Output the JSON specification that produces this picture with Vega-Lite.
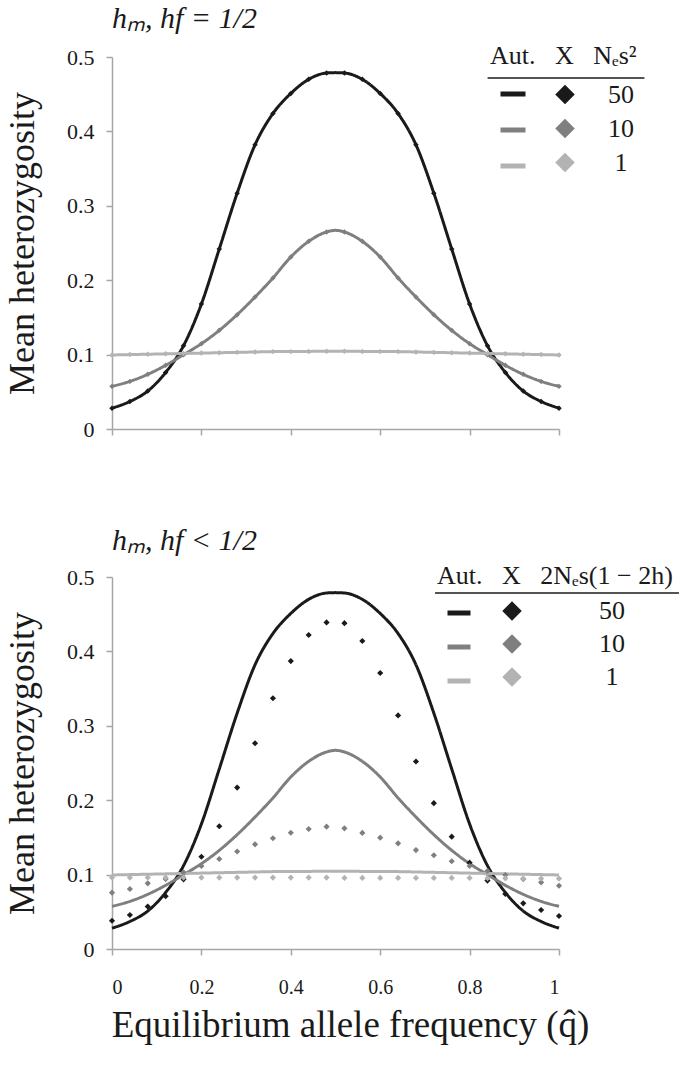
{
  "$schema": "https://vega.github.io/schema/vega-lite/v6.json",
  "background": "white",
  "padding": {"top": 4, "left": 4, "right": 5, "bottom": 5},
  "config": {
    "font": "Liberation Serif",
    "view": {"stroke": null},
    "axis": {
      "grid": false,
      "domainColor": "#a6a6a6",
      "domainWidth": 1.5,
      "tickColor": "#a6a6a6",
      "tickWidth": 1.5,
      "tickSize": 6,
      "labelFont": "Liberation Serif",
      "labelFontSize": 22,
      "labelColor": "#1a1a1a",
      "titleFont": "Liberation Serif",
      "titleFontSize": 36,
      "titleFontWeight": "normal",
      "titleColor": "#1a1a1a"
    },
    "legend": {
      "padding": 0,
      "titleFont": "Liberation Serif",
      "titleFontSize": 26,
      "titleFontWeight": 400,
      "titleColor": "#1a1a1a",
      "labelFont": "Liberation Serif",
      "labelFontSize": 26,
      "labelColor": "#1a1a1a",
      "titleLimit": 400
    },
    "title": {
      "font": "Liberation Serif",
      "fontSize": 30,
      "fontStyle": "italic",
      "fontWeight": "normal",
      "color": "#1a1a1a",
      "anchor": "start",
      "frame": "group"
    }
  },
  "datasets": {
    "aut": [
      {"q": 0, "H": 0.028, "series": "50"}, {"q": 0.04, "H": 0.037, "series": "50"}, {"q": 0.08, "H": 0.051, "series": "50"}, {"q": 0.12, "H": 0.076, "series": "50"}, {"q": 0.16, "H": 0.112, "series": "50"}, {"q": 0.2, "H": 0.168, "series": "50"}, {"q": 0.24, "H": 0.242, "series": "50"}, {"q": 0.28, "H": 0.317, "series": "50"}, {"q": 0.32, "H": 0.382, "series": "50"}, {"q": 0.36, "H": 0.424, "series": "50"}, {"q": 0.4, "H": 0.451, "series": "50"}, {"q": 0.44, "H": 0.47, "series": "50"}, {"q": 0.48, "H": 0.4785, "series": "50"}, {"q": 0.5, "H": 0.479, "series": "50"}, {"q": 0.52, "H": 0.4785, "series": "50"}, {"q": 0.56, "H": 0.47, "series": "50"}, {"q": 0.6, "H": 0.451, "series": "50"}, {"q": 0.64, "H": 0.424, "series": "50"}, {"q": 0.68, "H": 0.382, "series": "50"}, {"q": 0.72, "H": 0.317, "series": "50"}, {"q": 0.76, "H": 0.242, "series": "50"}, {"q": 0.8, "H": 0.168, "series": "50"}, {"q": 0.84, "H": 0.112, "series": "50"}, {"q": 0.88, "H": 0.076, "series": "50"}, {"q": 0.92, "H": 0.051, "series": "50"}, {"q": 0.96, "H": 0.037, "series": "50"}, {"q": 1, "H": 0.028, "series": "50"},
      {"q": 0, "H": 0.0573, "series": "10"}, {"q": 0.04, "H": 0.064, "series": "10"}, {"q": 0.08, "H": 0.0735, "series": "10"}, {"q": 0.12, "H": 0.0856, "series": "10"}, {"q": 0.16, "H": 0.0999, "series": "10"}, {"q": 0.2, "H": 0.1147, "series": "10"}, {"q": 0.24, "H": 0.1326, "series": "10"}, {"q": 0.28, "H": 0.1537, "series": "10"}, {"q": 0.32, "H": 0.1774, "series": "10"}, {"q": 0.36, "H": 0.203, "series": "10"}, {"q": 0.4, "H": 0.2312, "series": "10"}, {"q": 0.44, "H": 0.2522, "series": "10"}, {"q": 0.48, "H": 0.2648, "series": "10"}, {"q": 0.5, "H": 0.267, "series": "10"}, {"q": 0.52, "H": 0.2648, "series": "10"}, {"q": 0.56, "H": 0.2522, "series": "10"}, {"q": 0.6, "H": 0.2312, "series": "10"}, {"q": 0.64, "H": 0.203, "series": "10"}, {"q": 0.68, "H": 0.1774, "series": "10"}, {"q": 0.72, "H": 0.1537, "series": "10"}, {"q": 0.76, "H": 0.1326, "series": "10"}, {"q": 0.8, "H": 0.1147, "series": "10"}, {"q": 0.84, "H": 0.0999, "series": "10"}, {"q": 0.88, "H": 0.0856, "series": "10"}, {"q": 0.92, "H": 0.0735, "series": "10"}, {"q": 0.96, "H": 0.064, "series": "10"}, {"q": 1, "H": 0.0573, "series": "10"},
      {"q": 0, "H": 0.0995, "series": "1"}, {"q": 0.04, "H": 0.1, "series": "1"}, {"q": 0.08, "H": 0.1005, "series": "1"}, {"q": 0.12, "H": 0.101, "series": "1"}, {"q": 0.16, "H": 0.1015, "series": "1"}, {"q": 0.2, "H": 0.102, "series": "1"}, {"q": 0.24, "H": 0.1025, "series": "1"}, {"q": 0.28, "H": 0.103, "series": "1"}, {"q": 0.32, "H": 0.1035, "series": "1"}, {"q": 0.36, "H": 0.104, "series": "1"}, {"q": 0.4, "H": 0.104, "series": "1"}, {"q": 0.44, "H": 0.1043, "series": "1"}, {"q": 0.48, "H": 0.1045, "series": "1"}, {"q": 0.5, "H": 0.1045, "series": "1"}, {"q": 0.52, "H": 0.1045, "series": "1"}, {"q": 0.56, "H": 0.1043, "series": "1"}, {"q": 0.6, "H": 0.104, "series": "1"}, {"q": 0.64, "H": 0.104, "series": "1"}, {"q": 0.68, "H": 0.1035, "series": "1"}, {"q": 0.72, "H": 0.103, "series": "1"}, {"q": 0.76, "H": 0.1025, "series": "1"}, {"q": 0.8, "H": 0.102, "series": "1"}, {"q": 0.84, "H": 0.1015, "series": "1"}, {"q": 0.88, "H": 0.101, "series": "1"}, {"q": 0.92, "H": 0.1005, "series": "1"}, {"q": 0.96, "H": 0.1, "series": "1"}, {"q": 1, "H": 0.0995, "series": "1"}
    ],
    "xlinked": [
      {"q": 0, "H": 0.038, "series": "50"}, {"q": 0.04, "H": 0.0457, "series": "50"}, {"q": 0.08, "H": 0.057, "series": "50"}, {"q": 0.12, "H": 0.071, "series": "50"}, {"q": 0.16, "H": 0.0936, "series": "50"}, {"q": 0.2, "H": 0.124, "series": "50"}, {"q": 0.24, "H": 0.165, "series": "50"}, {"q": 0.28, "H": 0.217, "series": "50"}, {"q": 0.32, "H": 0.2765, "series": "50"}, {"q": 0.36, "H": 0.337, "series": "50"}, {"q": 0.4, "H": 0.387, "series": "50"}, {"q": 0.44, "H": 0.422, "series": "50"}, {"q": 0.48, "H": 0.439, "series": "50"}, {"q": 0.52, "H": 0.438, "series": "50"}, {"q": 0.56, "H": 0.414, "series": "50"}, {"q": 0.6, "H": 0.371, "series": "50"}, {"q": 0.64, "H": 0.314, "series": "50"}, {"q": 0.68, "H": 0.252, "series": "50"}, {"q": 0.72, "H": 0.196, "series": "50"}, {"q": 0.76, "H": 0.151, "series": "50"}, {"q": 0.8, "H": 0.116, "series": "50"}, {"q": 0.84, "H": 0.092, "series": "50"}, {"q": 0.88, "H": 0.074, "series": "50"}, {"q": 0.92, "H": 0.0614, "series": "50"}, {"q": 0.96, "H": 0.0524, "series": "50"}, {"q": 1, "H": 0.0444, "series": "50"},
      {"q": 0, "H": 0.0757, "series": "10"}, {"q": 0.04, "H": 0.0806, "series": "10"}, {"q": 0.08, "H": 0.0883, "series": "10"}, {"q": 0.12, "H": 0.094, "series": "10"}, {"q": 0.16, "H": 0.103, "series": "10"}, {"q": 0.2, "H": 0.1116, "series": "10"}, {"q": 0.24, "H": 0.121, "series": "10"}, {"q": 0.28, "H": 0.131, "series": "10"}, {"q": 0.32, "H": 0.1407, "series": "10"}, {"q": 0.36, "H": 0.1488, "series": "10"}, {"q": 0.4, "H": 0.1563, "series": "10"}, {"q": 0.44, "H": 0.1613, "series": "10"}, {"q": 0.48, "H": 0.1644, "series": "10"}, {"q": 0.52, "H": 0.1622, "series": "10"}, {"q": 0.56, "H": 0.156, "series": "10"}, {"q": 0.6, "H": 0.1496, "series": "10"}, {"q": 0.64, "H": 0.142, "series": "10"}, {"q": 0.68, "H": 0.133, "series": "10"}, {"q": 0.72, "H": 0.126, "series": "10"}, {"q": 0.76, "H": 0.118, "series": "10"}, {"q": 0.8, "H": 0.1116, "series": "10"}, {"q": 0.84, "H": 0.105, "series": "10"}, {"q": 0.88, "H": 0.0995, "series": "10"}, {"q": 0.92, "H": 0.094, "series": "10"}, {"q": 0.96, "H": 0.0896, "series": "10"}, {"q": 1, "H": 0.085, "series": "10"},
      {"q": 0, "H": 0.096, "series": "1"}, {"q": 0.04, "H": 0.096, "series": "1"}, {"q": 0.08, "H": 0.096, "series": "1"}, {"q": 0.12, "H": 0.096, "series": "1"}, {"q": 0.16, "H": 0.096, "series": "1"}, {"q": 0.2, "H": 0.096, "series": "1"}, {"q": 0.24, "H": 0.096, "series": "1"}, {"q": 0.28, "H": 0.096, "series": "1"}, {"q": 0.32, "H": 0.096, "series": "1"}, {"q": 0.36, "H": 0.096, "series": "1"}, {"q": 0.4, "H": 0.096, "series": "1"}, {"q": 0.44, "H": 0.096, "series": "1"}, {"q": 0.48, "H": 0.096, "series": "1"}, {"q": 0.52, "H": 0.0955, "series": "1"}, {"q": 0.56, "H": 0.0955, "series": "1"}, {"q": 0.6, "H": 0.0955, "series": "1"}, {"q": 0.64, "H": 0.0955, "series": "1"}, {"q": 0.68, "H": 0.0955, "series": "1"}, {"q": 0.72, "H": 0.0955, "series": "1"}, {"q": 0.76, "H": 0.0955, "series": "1"}, {"q": 0.8, "H": 0.0955, "series": "1"}, {"q": 0.84, "H": 0.0952, "series": "1"}, {"q": 0.88, "H": 0.095, "series": "1"}, {"q": 0.92, "H": 0.0948, "series": "1"}, {"q": 0.96, "H": 0.0947, "series": "1"}, {"q": 1, "H": 0.0946, "series": "1"}
    ]
  },
  "spacing": 86,
  "resolve": {
    "scale": {"stroke": "independent", "fill": "independent", "strokeDash": "independent"},
    "legend": {"stroke": "independent", "fill": "independent", "strokeDash": "independent"}
  },
  "vconcat": [
    {
      "width": 447,
      "height": 372,
      "title": {"text": "hₘ, hf = 1/2", "font": "Liberation Serif", "fontStyle": "italic", "fontWeight": "normal", "fontSize": 30, "offset": 9},
      "layer": [
        {
          "data": {"name": "aut"},
          "mark": {"type": "line", "strokeWidth": 3, "interpolate": "monotone"},
          "encoding": {
            "x": {"field": "q", "type": "quantitative", "scale": {"domain": [0, 1], "nice": false}, "axis": {"values": [0, 0.2, 0.4, 0.6, 0.8, 1], "labels": false, "title": null}},
            "y": {"field": "H", "type": "quantitative", "scale": {"domain": [0, 0.5], "nice": false}, "axis": {"values": [0, 0.1, 0.2, 0.3, 0.4, 0.5], "format": "~g", "labelFont": "Liberation Serif", "labelFontSize": 22, "labelPadding": 12, "title": "Mean heterozygosity", "titleFont": "Liberation Serif", "titleFontSize": 36, "titlePadding": 25}},
            "stroke": {
              "field": "series", "type": "nominal",
              "scale": {"domain": ["50", "10", "1"], "range": ["#1a1a1a", "#7f7f7f", "#b3b3b3"]},
              "legend": {"title": "Aut.\u00a0\u00a0\u00a0X\u00a0\u00a0\u00a0Nₑs²", "titleFont": "Liberation Serif", "titleFontSize": 26, "titleFontWeight": 400, "titleColor": "#1a1a1a", "titleLimit": 400, "orient": "none", "legendX": 378, "legendY": -14, "padding": 0, "symbolType": "stroke", "symbolStrokeWidth": 5, "symbolSize": 625, "symbolOffset": 8, "labelExpr": "''", "labelFontSize": 26, "titlePadding": 10, "rowPadding": 8}
            },
            "strokeDash": {
              "datum": "underline", "type": "nominal",
              "scale": {"range": [[1, 0]]},
              "legend": {"title": null, "orient": "none", "legendX": 445, "legendY": 12, "padding": 0, "symbolType": "M-10,0H10", "symbolSize": 246, "symbolStrokeWidth": 1.5, "symbolStrokeColor": "#1a1a1a", "symbolFillColor": "transparent", "labelExpr": "''", "labelFontSize": 1}
            }
          }
        },
        {
          "data": {"name": "aut"},
          "transform": [{"filter": "datum.q != 0.5"}],
          "mark": {"type": "point", "shape": "diamond", "filled": true, "size": 30, "opacity": 1},
          "encoding": {
            "x": {"field": "q", "type": "quantitative"},
            "y": {"field": "H", "type": "quantitative"},
            "fill": {
              "field": "series", "type": "nominal", "sort": ["50", "10", "1"],
              "scale": {"range": ["#1a1a1a", "#7f7f7f", "#b3b3b3"]},
              "legend": {"title": null, "orient": "none", "legendX": 440, "legendY": 24.5, "padding": 0, "symbolType": "diamond", "symbolSize": 380, "symbolStrokeWidth": 0, "labelFont": "Liberation Serif", "labelFontSize": 26, "labelColor": "#1a1a1a", "labelAlign": "center", "labelOffset": 43, "rowPadding": 8}
            }
          }
        }
      ]
    },
    {
      "width": 447,
      "height": 372,
      "title": {"text": "hₘ, hf < 1/2", "font": "Liberation Serif", "fontStyle": "italic", "fontWeight": "normal", "fontSize": 30, "offset": 7},
      "layer": [
        {
          "data": {"name": "aut"},
          "mark": {"type": "line", "strokeWidth": 3, "interpolate": "monotone"},
          "encoding": {
            "x": {"field": "q", "type": "quantitative", "scale": {"domain": [0, 1], "nice": false}, "axis": {"values": [0, 0.2, 0.4, 0.6, 0.8, 1], "format": "~g", "labelFont": "Liberation Serif", "labelFontSize": 20, "labelPadding": 22, "title": "Equilibrium allele frequency (q̂)", "titleFont": "Liberation Serif", "titleFontSize": 37, "titlePadding": 10, "titleX": 238, "titleAlign": "center"}},
            "y": {"field": "H", "type": "quantitative", "scale": {"domain": [0, 0.5], "nice": false}, "axis": {"values": [0, 0.1, 0.2, 0.3, 0.4, 0.5], "format": "~g", "labelFont": "Liberation Serif", "labelFontSize": 22, "labelPadding": 12, "title": "Mean heterozygosity", "titleFont": "Liberation Serif", "titleFontSize": 36, "titlePadding": 25}},
            "stroke": {
              "field": "series", "type": "nominal",
              "scale": {"domain": ["50", "10", "1"], "range": ["#1a1a1a", "#7f7f7f", "#b3b3b3"]},
              "legend": {"title": "Aut.\u00a0\u00a0\u00a0X\u00a0\u00a0\u00a02Nₑs(1\u00a0−\u00a02h)", "titleFont": "Liberation Serif", "titleFontSize": 26, "titleFontWeight": 400, "titleColor": "#1a1a1a", "titleLimit": 400, "orient": "none", "legendX": 325, "legendY": -14, "padding": 0, "symbolType": "stroke", "symbolStrokeWidth": 5, "symbolSize": 529, "symbolOffset": 8, "labelExpr": "''", "labelFontSize": 26, "titlePadding": 10, "rowPadding": 7}
            },
            "strokeDash": {
              "datum": "underline", "type": "nominal",
              "scale": {"range": [[1, 0]]},
              "legend": {"title": null, "orient": "none", "legendX": 432, "legendY": 3, "padding": 0, "symbolType": "M-10,0H10", "symbolSize": 595, "symbolStrokeWidth": 1.5, "symbolStrokeColor": "#1a1a1a", "symbolFillColor": "transparent", "labelExpr": "''", "labelFontSize": 1}
            }
          }
        },
        {
          "data": {"name": "xlinked"},
          "mark": {"type": "point", "shape": "diamond", "filled": true, "size": 38, "opacity": 1},
          "encoding": {
            "x": {"field": "q", "type": "quantitative"},
            "y": {"field": "H", "type": "quantitative"},
            "fill": {
              "field": "series", "type": "nominal", "sort": ["50", "10", "1"],
              "scale": {"range": ["#1a1a1a", "#7f7f7f", "#b3b3b3"]},
              "legend": {"title": null, "orient": "none", "legendX": 387, "legendY": 21, "padding": 0, "symbolType": "diamond", "symbolSize": 380, "symbolStrokeWidth": 0, "labelFont": "Liberation Serif", "labelFontSize": 26, "labelColor": "#1a1a1a", "labelAlign": "center", "labelOffset": 87, "rowPadding": 7}
            }
          }
        }
      ]
    }
  ]
}
